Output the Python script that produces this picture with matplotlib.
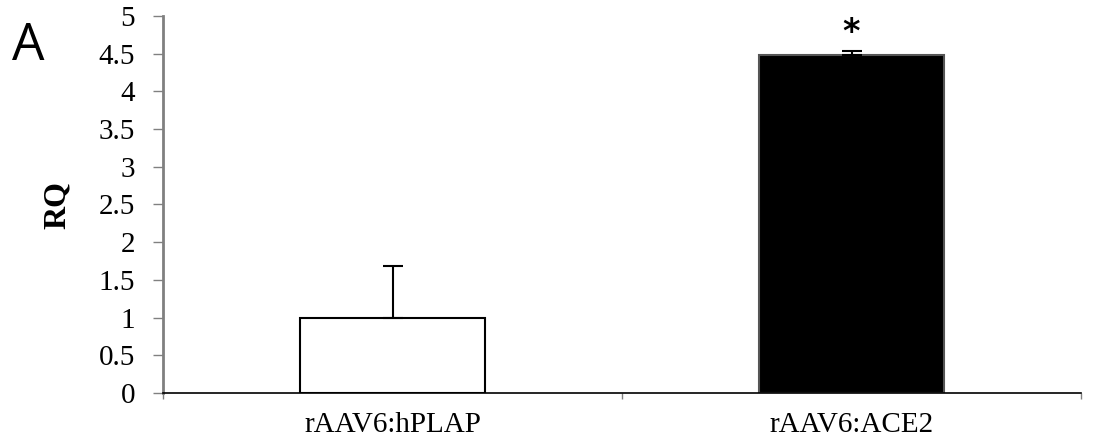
import matplotlib
matplotlib.use("Agg")
import matplotlib.pyplot as plt

categories = ["rAAV6:hPLAP", "rAAV6:ACE2"]
values = [1.0, 4.48]
errors = [0.69, 0.06]
bar_colors = ["white", "black"]
bar_edges = ["black", "#555555"]
significance = ["", "*"]
yticks = [0, 0.5, 1, 1.5, 2, 2.5, 3, 3.5, 4, 4.5, 5]
ytick_labels = ["0", "0.5", "1", "1.5", "2", "2.5", "3", "3.5", "4", "4.5", "5"]

plt.rcParams["font.family"] = ["Liberation Serif", "DejaVu Serif"]

fig = plt.figure(figsize=(11.03, 4.40), dpi=100)
ax = fig.add_axes([163 / 1103, 1 - 393 / 440, (1081 - 163) / 1103, (393 - 16) / 440])

pos = [i + 0.5 for i in range(len(categories))]
ax.bar(pos, values, width=0.405, color=bar_colors, edgecolor=bar_edges, linewidth=1.5, zorder=2)
ax.errorbar(pos, values, yerr=[[0] * len(errors), errors], fmt="none", ecolor="black",
            elinewidth=1.5, capsize=7, capthick=1.5, zorder=3)

for x, v, e, s in zip(pos, values, errors, significance):
    if s:
        ax.annotate(s, (x, v + e), xytext=(0, 1), textcoords="offset points",
                    ha="center", va="bottom", fontsize=24, fontweight="bold",
                    family=["DejaVu Sans"])

ax.set_xlim(0, len(categories))
ax.set_ylim(0, 5)
ax.set_yticks(yticks)
ax.set_yticklabels(ytick_labels)
ax.set_xticks(range(len(categories) + 1))
ax.set_xticklabels([""] * (len(categories) + 1))
ax.set_xticks(pos, minor=True)
ax.set_xticklabels(categories, minor=True)

ax.tick_params(axis="y", direction="out", length=7, width=1, color="#808080", labelsize=21, pad=13)
ax.tick_params(axis="x", which="major", direction="out", length=4, width=1, color="#808080")
ax.tick_params(axis="x", which="minor", length=0, labelsize=21, pad=14)

for s in ["top", "right"]:
    ax.spines[s].set_visible(False)
ax.spines["left"].set_color("#808080")
ax.spines["left"].set_linewidth(2)
ax.spines["bottom"].set_color("black")
ax.spines["bottom"].set_linewidth(1.2)
ax.spines["bottom"].set_zorder(4)

ax.set_ylabel("RQ", fontsize=23, fontweight="bold")
ax.yaxis.set_label_coords(-0.099, 0.5)

fig.text(12 / 1103, 1 - 60 / 440, "A", fontsize=37, family=["Open Sans", "DejaVu Sans"], ha="left", va="baseline")

fig.savefig("out.png", dpi=100)
